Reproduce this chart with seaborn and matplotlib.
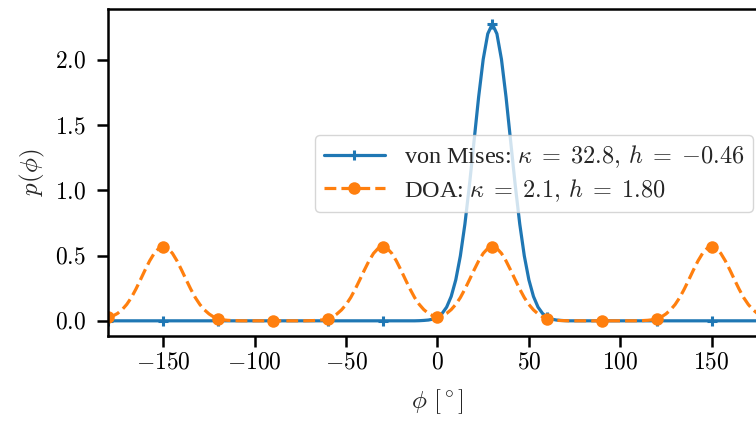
import numpy as np
import pandas as pd
import matplotlib
matplotlib.use("Agg")
import matplotlib.pyplot as plt
import seaborn as sns
from matplotlib.ticker import FuncFormatter

# angle grid (degrees), every 2.5 deg
phi = np.arange(-180, 180.1, 2.5)

# von Mises density (peak at 30 deg)
von_mises = (
    [0.0] * 68
    + [0.001, 0.003, 0.006, 0.013, 0.028, 0.056, 0.105, 0.187, 0.314, 0.497,
       0.742, 1.043, 1.379, 1.715, 2.004, 2.200, 2.275, 2.200, 2.004, 1.715,
       1.379, 1.043, 0.742, 0.497, 0.314, 0.187, 0.105, 0.056, 0.028, 0.013,
       0.006, 0.003, 0.001]
    + [0.0] * 44
)

# DOA density (peaks at -150, -30, 30, 150 deg)
doa = (
    [0.030, 0.038, 0.057, 0.086, 0.126, 0.178, 0.243, 0.315, 0.389, 0.459,
     0.517, 0.555, 0.568, 0.555, 0.517, 0.459, 0.389, 0.315, 0.243, 0.178,
     0.125, 0.084, 0.053, 0.030, 0.015, 0.008, 0.004, 0.002, 0.001]
    + [0.0] * 15
    + [0.001, 0.002, 0.004, 0.008, 0.015, 0.030, 0.053, 0.084, 0.125, 0.178,
       0.243, 0.315, 0.389, 0.459, 0.517, 0.555, 0.568, 0.555, 0.517, 0.459,
       0.389, 0.315, 0.243, 0.178, 0.126, 0.086, 0.057, 0.038, 0.030, 0.038,
       0.057, 0.086, 0.126, 0.178, 0.243, 0.315, 0.389, 0.459, 0.517, 0.555,
       0.568, 0.555, 0.517, 0.459, 0.389, 0.315, 0.243, 0.178, 0.125, 0.084,
       0.053, 0.030, 0.015, 0.008, 0.004, 0.002, 0.001]
    + [0.0] * 15
    + [0.001, 0.002, 0.004, 0.008, 0.015, 0.030, 0.053, 0.084, 0.125, 0.178,
       0.243, 0.315, 0.389, 0.459, 0.517, 0.555, 0.568, 0.555, 0.517, 0.459,
       0.389, 0.315, 0.243, 0.178, 0.126, 0.086, 0.057, 0.038, 0.030]
)

labels = [r"von Mises: $\kappa\;=\;32.8,\,h\;=\;{-0.46}$",
          r"DOA: $\kappa\;=\;2.1,\,h\;=\;1.80$"]

df = pd.DataFrame({"phi": phi, "vm": von_mises, "doa": doa})

sns.set_style("ticks")
plt.rcParams["font.family"] = ["Liberation Serif", "DejaVu Serif"]
plt.rcParams["mathtext.fontset"] = "cm"
plt.rcParams["font.size"] = 17
plt.rcParams["axes.edgecolor"] = "black"
plt.rcParams["xtick.color"] = "black"
plt.rcParams["ytick.color"] = "black"

fig = plt.figure(figsize=(7.56, 4.23), dpi=100)
ax = fig.add_axes([0.1435, 0.2064, 0.8704, 0.7723])

blue, orange = "#1f77b4", "#ff7f0e"
sns.lineplot(data=df, x="phi", y="vm", ax=ax, color=blue, lw=2.3,
             marker="+", markersize=7, markeredgewidth=2.2,
             markeredgecolor=blue, markevery=12, label=labels[0])
sns.lineplot(data=df, x="phi", y="doa", ax=ax, color=orange, lw=2.3,
             linestyle="--", marker="o", markersize=9, markeredgewidth=0,
             markevery=12, label=labels[1])

ax.set_xlim(-180, 180)
ax.set_ylim(-0.114, 2.39)
ax.set_xticks([-150, -100, -50, 0, 50, 100, 150])
ax.set_yticks([0.0, 0.5, 1.0, 1.5, 2.0])
ax.xaxis.set_major_formatter(FuncFormatter(lambda v, p: rf"${v:g}$"))
ax.yaxis.set_major_formatter(FuncFormatter(lambda v, p: rf"${v:.1f}$"))
ax.tick_params(length=8, width=1.8, labelsize=17)
ax.tick_params(axis="y", pad=8)
ax.tick_params(axis="x", pad=4)
for s in ax.spines.values():
    s.set_linewidth(1.8)

ax.set_xlabel(r"$\phi\ [^\circ]$", fontsize=18, labelpad=10)
ax.set_ylabel(r"$p(\phi)$", fontsize=18, labelpad=6)

ax.legend(loc="upper right", bbox_to_anchor=(0.9795, 0.614), borderaxespad=0,
          fontsize=17.5, handlelength=2.5, labelspacing=0.28, borderpad=0.35,
          handletextpad=0.8, framealpha=0.8, edgecolor="0.8", fancybox=True)

fig.savefig("out.png", dpi=100)
